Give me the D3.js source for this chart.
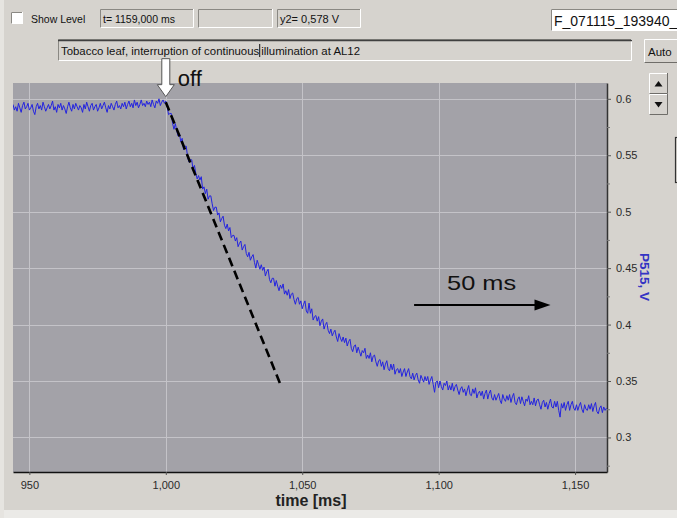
<!DOCTYPE html>
<html><head><meta charset="utf-8">
<script src="https://cdn.jsdelivr.net/npm/d3@7"></script>
<style>
html,body{margin:0;padding:0;background:#d6d3ce;}
svg{display:block;}
text{font-family:"Liberation Sans",Arial,sans-serif;}
</style></head><body>
<svg id="chart" width="677" height="518"></svg>
<script>
// ---------- data ----------
const sampleStart = 944;   // ms, time of first sample
const sampleStep = 0.5;    // ms between samples
const signal = [
0.595,0.590,0.593,0.589,0.596,0.592,0.588,0.594,0.597,0.591,
0.593,0.596,0.590,0.592,0.595,0.589,0.586,0.593,0.596,0.591,
0.594,0.590,0.597,0.593,0.589,0.592,0.595,0.591,0.594,0.598,
0.590,0.593,0.588,0.595,0.592,0.596,0.590,0.594,0.591,0.587,
0.593,0.597,0.592,0.589,0.595,0.591,0.596,0.593,0.590,0.594,
0.592,0.588,0.595,0.591,0.597,0.593,0.589,0.594,0.596,0.590,
0.593,0.595,0.589,0.592,0.596,0.591,0.594,0.597,0.592,0.588,
0.594,0.591,0.596,0.593,0.590,0.595,0.598,0.592,0.594,0.591,
0.596,0.593,0.597,0.591,0.595,0.598,0.593,0.596,0.592,0.599,
0.594,0.597,0.592,0.595,0.599,0.594,0.596,0.593,0.598,0.595,
0.597,0.593,0.599,0.595,0.592,0.598,0.596,0.600,0.594,0.597,
0.599,0.596,0.598,
0.594,0.586,0.587,0.587,0.578,0.573,0.578,0.572,0.567,0.569,
0.562,0.565,0.555,0.558,0.558,0.548,0.544,0.546,0.546,0.537,
0.541,0.534,0.529,0.532,0.528,0.531,0.520,0.522,0.516,0.520,
0.511,0.514,0.514,0.507,0.501,0.504,0.504,0.497,0.499,0.491,
0.494,0.496,0.488,0.485,0.489,0.483,0.486,0.477,0.479,0.479,
0.474,0.477,0.469,0.472,0.474,0.466,0.469,0.471,0.463,0.460,
0.464,0.457,0.460,0.462,0.455,0.450,0.457,0.453,0.449,0.453,
0.448,0.451,0.443,0.447,0.449,0.440,0.437,0.441,0.441,0.434,
0.439,0.434,0.430,0.435,0.432,0.436,0.427,0.430,0.426,0.431,
0.423,0.427,0.428,0.422,0.418,0.423,0.424,0.418,0.421,0.414,
0.418,0.421,0.412,0.410,0.419,0.410,0.414,0.404,0.407,0.408,
0.403,0.407,0.399,0.403,0.405,0.396,0.400,0.402,0.395,0.392,
0.396,0.390,0.393,0.395,0.389,0.385,0.392,0.388,0.385,0.389,
0.384,0.388,0.381,0.385,0.387,0.379,0.376,0.381,0.382,0.375,
0.380,0.376,0.372,0.377,0.375,0.379,0.370,0.373,0.370,0.375,
0.367,0.372,0.373,0.367,0.363,0.368,0.369,0.363,0.367,0.360,
0.365,0.368,0.361,0.359,0.365,0.360,0.365,0.356,0.360,0.361,
0.357,0.361,0.354,0.358,0.361,0.354,0.358,0.361,0.354,0.352,
0.357,0.351,0.355,0.357,0.351,0.348,0.355,0.352,0.349,0.354,
0.350,0.354,0.347,0.351,0.354,0.347,0.340,0.349,0.350,0.344,
0.350,0.345,0.342,0.348,0.346,0.350,0.342,0.346,0.342,0.348,
0.341,0.345,0.347,0.342,0.338,0.343,0.345,0.340,0.343,0.337,
0.342,0.346,0.338,0.337,0.343,0.339,0.344,0.335,0.339,0.341,
0.337,0.341,0.334,0.339,0.342,0.334,0.339,0.342,0.335,0.333,
0.338,0.333,0.336,0.339,0.333,0.330,0.338,0.334,0.332,0.337,
0.333,0.338,0.331,0.336,0.339,0.331,0.329,0.334,0.336,0.330,
0.336,0.332,0.328,0.334,0.332,0.337,0.329,0.332,0.329,0.335,
0.328,0.333,0.334,0.329,0.325,0.331,0.333,0.327,0.331,0.325,
0.330,0.334,0.327,0.326,0.332,0.327,0.332,0.324,0.318,0.330,
0.326,0.331,0.324,0.329,0.332,0.324,0.329,0.332,0.326,0.324,
0.329,0.324,0.328,0.331,0.325,0.322,0.329,0.325,0.324,0.329,
0.325,0.330,0.323,0.328,0.331,0.323,0.321,0.326,0.328,0.322,
0.327,0.324,0.326
];
const xTicks = [950, 1000, 1050, 1100, 1150];
const xTickLabels = ["950", "1,000", "1,050", "1,100", "1,150"];
const yTicks = [0.3, 0.35, 0.4, 0.45, 0.5, 0.55, 0.6];
const yTickLabels = ["0.3", "0.35", "0.4", "0.45", "0.5", "0.55", "0.6"];
const yMinorTicks = [0.275, 0.325, 0.375, 0.425, 0.475, 0.525, 0.575];
const xDomain = [944, 1161.7];
const yDomain = [0.2694, 0.614];
const slopeTimes = [1000, 1042.1];
const slopeValues = [0.597, 0.3465];
const offMarkTime = 1000, offMarkValue = 0.601;
const scaleBarTimes = [1091, 1141];
const scaleBarValue = 0.4173;
const xTitle = "time [ms]";
const yTitle = "P515, V";
const infoTime = "t= 1159,000 ms";
const infoY2 = "y2= 0,578 V";
const fileName = "F_071115_193940_(";
const commentA = "Tobacco leaf, interruption of continuous ";
const commentB = "illumination at AL12";

// ---------- layout ----------
const W = 677, H = 518;
const plot = {left: 13, right: 607, top: 83, bottom: 472};
const svg = d3.select("#chart");
const BG = "#d6d3ce";

svg.append("rect").attr("width", W).attr("height", H).attr("fill", BG);
svg.append("rect").attr("x", 0).attr("y", 510).attr("width", W).attr("height", 8).attr("fill", "#ebeae7");
svg.append("rect").attr("x", 0).attr("y", 0).attr("width", 4).attr("height", H).attr("fill", "#e6e4e0");

// ---------- UI chrome ----------
function sunken(x, y, w, h, fill) {
  const g = svg.append("g");
  g.append("rect").attr("x", x).attr("y", y).attr("width", w).attr("height", h).attr("fill", fill);
  g.append("path").attr("d", `M${x + 0.5},${y + h}V${y + 0.5}H${x + w}`).attr("stroke", "#8a8883").attr("fill", "none");
  g.append("path").attr("d", `M${x + 0.5},${y + h - 0.5}H${x + w - 0.5}V${y}`).attr("stroke", "#ffffff").attr("fill", "none");
  return g;
}
function raised(x, y, w, h) {
  const g = svg.append("g");
  g.append("rect").attr("x", x).attr("y", y).attr("width", w).attr("height", h).attr("fill", BG);
  g.append("path").attr("d", `M${x + 0.5},${y + h}V${y + 0.5}H${x + w}`).attr("stroke", "#ffffff").attr("fill", "none");
  g.append("path").attr("d", `M${x + 0.5},${y + h - 0.5}H${x + w - 0.5}V${y}`).attr("stroke", "#6f6d69").attr("fill", "none");
  return g;
}
const uiFont = 10.5;
// checkbox
sunken(11, 12, 12, 12, "#ffffff");
svg.append("text").attr("x", 31).attr("y", 23).attr("font-size", uiFont).attr("fill", "#111").text("Show Level");
sunken(100, 9, 94, 19, BG);
svg.append("text").attr("x", 103).attr("y", 23).attr("font-size", uiFont).attr("fill", "#111").text(infoTime);
sunken(198, 9, 75, 19, BG);
sunken(277, 9, 84, 19, BG);
svg.append("text").attr("x", 280).attr("y", 23).attr("font-size", 11).attr("fill", "#111").text(infoY2);
sunken(551, 9, 130, 22, "#ffffff");
svg.append("text").attr("x", 554).attr("y", 26).attr("font-size", 14).attr("fill", "#111").text(fileName);
// comment box
const cb = sunken(58, 39, 574, 22, BG);
cb.append("path").attr("d", "M58,40.5H632").attr("stroke", "#404040").attr("stroke-width", 1.5);
const cFont = 11.4;
const ctA = svg.append("text").attr("x", 61).attr("y", 55).attr("font-size", cFont).attr("fill", "#111").text(commentA);
const wA = ctA.node().getComputedTextLength();
svg.append("line").attr("x1", 61 + wA + 0.5).attr("x2", 61 + wA + 0.5).attr("y1", 44).attr("y2", 57).attr("stroke", "#111");
svg.append("text").attr("x", 61 + wA + 2).attr("y", 55).attr("font-size", cFont).attr("fill", "#111").text(commentB);
// Auto button
raised(644, 39, 40, 24);
svg.append("text").attr("x", 648).attr("y", 56).attr("font-size", 11.5).attr("fill", "#111").text("Auto");
// spin buttons
raised(649, 73, 19, 21);
raised(649, 94, 19, 21);
svg.append("path").attr("d", "M654.5,86.5 L658.5,81 L662.5,86.5Z").attr("fill", "#111");
svg.append("path").attr("d", "M654.5,102 L658.5,107.5 L662.5,102Z").attr("fill", "#111");
// partial box at right edge
svg.append("rect").attr("x", 675.5).attr("y", 137.5).attr("width", 10).attr("height", 45).attr("fill", "none").attr("stroke", "#333").attr("stroke-width", 1.2);

// ---------- scales ----------
const x = d3.scaleLinear().domain(xDomain).range([plot.left, plot.right]);
const y = d3.scaleLinear().domain(yDomain).range([plot.bottom, plot.top]);

// plot background
svg.append("rect").attr("x", plot.left).attr("y", plot.top)
  .attr("width", plot.right - plot.left).attr("height", plot.bottom - plot.top).attr("fill", "#a3a2a8");

// grid
const grid = svg.append("g").attr("stroke", "#c4c3c8").attr("stroke-width", 1);
grid.selectAll("line.v").data(xTicks).join("line").attr("class", "v")
  .attr("x1", d => Math.round(x(d)) + 0.5).attr("x2", d => Math.round(x(d)) + 0.5)
  .attr("y1", plot.top).attr("y2", plot.bottom);
grid.selectAll("line.h").data(yTicks).join("line").attr("class", "h")
  .attr("y1", d => Math.round(y(d)) + 0.5).attr("y2", d => Math.round(y(d)) + 0.5)
  .attr("x1", plot.left).attr("x2", plot.right);

// ---------- axes ----------
const xAxis = d3.axisBottom(x).tickValues(xTicks)
  .tickFormat((d, i) => xTickLabels[i]).tickSize(3).tickSizeOuter(0).tickPadding(6);
const gx = svg.append("g").attr("transform", `translate(0,${plot.bottom})`).call(xAxis);
gx.select(".domain").attr("stroke", "#111").attr("stroke-width", 1.5);
gx.selectAll(".tick line").attr("stroke", "#555");
gx.selectAll(".tick text").attr("font-size", 11).attr("fill", "#2a2a2a")
  .attr("font-family", '"Liberation Sans",Arial,sans-serif');

const yAxis = d3.axisRight(y).tickValues(yTicks)
  .tickFormat((d, i) => yTickLabels[i]).tickSize(4).tickSizeOuter(0).tickPadding(5);
const gy = svg.append("g").attr("transform", `translate(${plot.right},0)`).call(yAxis);
gy.select(".domain").attr("stroke", "#333").attr("stroke-width", 1.5);
gy.selectAll(".tick line").attr("stroke", "#555");
gy.selectAll(".tick text").attr("font-size", 11).attr("fill", "#2a2a2a")
  .attr("font-family", '"Liberation Sans",Arial,sans-serif');
const yMinor = d3.axisRight(y).tickValues(yMinorTicks).tickFormat("").tickSize(3).tickSizeOuter(0);
const gym = svg.append("g").attr("transform", `translate(${plot.right},0)`).call(yMinor);
gym.select(".domain").remove();
gym.selectAll(".tick line").attr("stroke", "#777");

// titles
svg.append("text").attr("x", 311).attr("y", 506).attr("text-anchor", "middle")
  .attr("font-size", 16).attr("font-weight", "bold").attr("fill", "#222").text(xTitle);
svg.append("text").attr("transform", "translate(640,277) rotate(90)").attr("text-anchor", "middle")
  .attr("font-size", 13.5).attr("font-weight", "bold").attr("fill", "#3434c4").text(yTitle);

// ---------- data trace ----------
svg.append("clipPath").attr("id", "pc").append("rect")
  .attr("x", plot.left).attr("y", plot.top).attr("width", plot.right - plot.left).attr("height", plot.bottom - plot.top);
const line = d3.line().x((d, i) => x(sampleStart + i * sampleStep)).y(d => y(d));
svg.append("path").datum(signal).attr("clip-path", "url(#pc)")
  .attr("d", line).attr("fill", "none").attr("stroke", "#2323e0").attr("stroke-width", 1)
  .attr("stroke-linejoin", "round");

// dashed slope
svg.append("line")
  .attr("x1", x(slopeTimes[0])).attr("y1", y(slopeValues[0]))
  .attr("x2", x(slopeTimes[1])).attr("y2", y(slopeValues[1]))
  .attr("stroke", "#000").attr("stroke-width", 2.6).attr("stroke-dasharray", "9,5");

// "off" arrow
const ax = x(offMarkTime), ay = y(offMarkValue);
svg.append("path")
  .attr("d", `M${ax - 4},${ay - 39} H${ax + 4} V${ay - 13} H${ax + 8.5} L${ax},${ay - 1} L${ax - 8.5},${ay - 13} H${ax - 4} Z`)
  .attr("fill", "#ffffff").attr("stroke", "#555").attr("stroke-width", 1);
svg.append("text").attr("x", ax + 12).attr("y", ay - 12).attr("font-size", 22).attr("fill", "#111").text("off");

// 50 ms scale bar
const sx0 = x(scaleBarTimes[0]), sx1 = x(scaleBarTimes[1]), sy = y(scaleBarValue);
svg.append("line").attr("x1", sx0).attr("x2", sx1 - 12).attr("y1", sy).attr("y2", sy)
  .attr("stroke", "#000").attr("stroke-width", 2);
svg.append("path").attr("d", `M${sx1 - 16},${sy - 5.5} L${sx1},${sy} L${sx1 - 16},${sy + 5.5} Z`).attr("fill", "#000");
svg.append("text").attr("x", sx0 + 33).attr("y", sy - 15).attr("font-size", 21)
  .attr("textLength", 69).attr("lengthAdjust", "spacingAndGlyphs")
  .attr("fill", "#111").text("50 ms");
</script>
</body></html>
